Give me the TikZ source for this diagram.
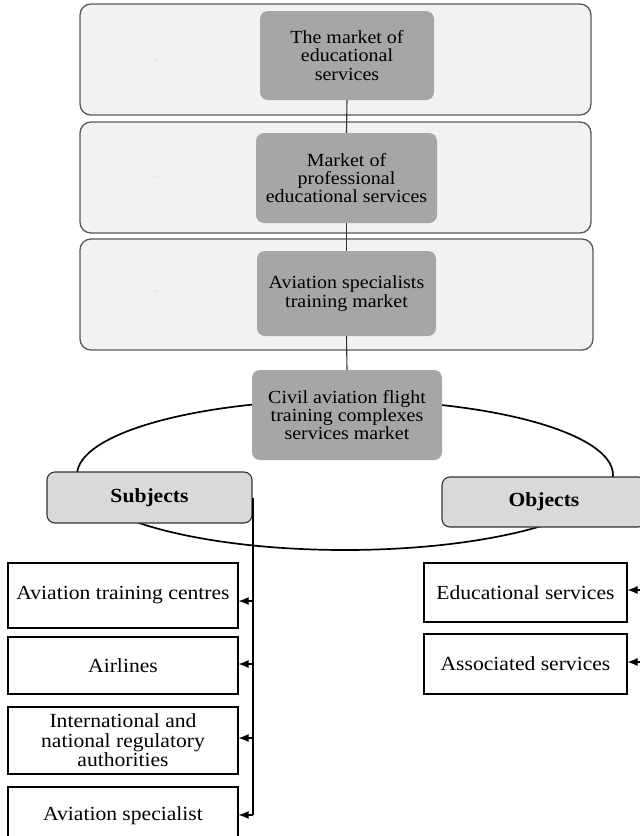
\documentclass[tikz,border=0pt]{standalone}
\usepackage{fontspec}
\setmainfont{Liberation Serif}[FakeStretch=1.08]
\usetikzlibrary{shapes.geometric,arrows.meta}
\definecolor{paneledge}{HTML}{595959}
\definecolor{panelfill}{HTML}{F2F2F2}
\definecolor{levelfill}{HTML}{A6A6A6}
\definecolor{groupfill}{HTML}{D9D9D9}
\definecolor{linkgray}{HTML}{333333}
\definecolor{ghost}{HTML}{DADADA}

\begin{document}
\begin{tikzpicture}[x=1pt,y=-1pt,
  panel/.style={draw=paneledge, line width=1.3pt, fill=panelfill, rounded corners=11pt, inner sep=0pt},
  level/.style={fill=levelfill, rounded corners=8pt, align=center, inner sep=0pt,
                font=\fontsize{18.5}{18.3}\selectfont},
  group/.style={draw=black!80, line width=1.1pt, fill=groupfill, rounded corners=8pt, inner sep=0pt,
                font=\fontsize{20}{19.5}\selectfont\bfseries},
  item/.style={draw=black, line width=1.2pt, fill=white, align=center, inner sep=0pt,
               font=\fontsize{20}{19.5}\selectfont},
  ghostdash/.style={text=ghost, inner sep=0pt, font=\fontsize{12}{12}\selectfont},
  link/.style={draw=linkgray, line width=1.1pt},
  feed/.style={draw=black, line width=1.1pt, -{Latex[length=10pt,width=8pt]}},
]
\useasboundingbox (0,0) rectangle (640,836);

% three nested market levels
\node[panel, minimum width=511pt, minimum height=111pt] (p1) at (335.5,59.5) {};
\node[panel, minimum width=511pt, minimum height=111pt] (p2) at (335.5,177.5) {};
\node[panel, minimum width=513pt, minimum height=111pt] (p3) at (336.5,294.5) {};
\node[ghostdash] (m1) at (156,62) {-};
\node[ghostdash] (m2) at (157,178) {-};
\node[ghostdash] (m3) at (157,293) {-};

\node[level, minimum width=174pt, minimum height=89pt] (l1) at (347,55.5)
  {The market of\\educational\\services};
\node[level, minimum width=181pt, minimum height=90pt] (l2) at (346.5,178)
  {Market of\\professional\\educational services};
\node[level, minimum width=179pt, minimum height=85pt] (l3) at (346.5,293.5)
  {Aviation specialists\\training market};

% the market ring with its subjects and objects
\node[draw=black, ellipse, line width=1.7pt, minimum width=536pt, minimum height=150pt, inner sep=0pt]
  (ring) at (345,475) {};
\node[level, minimum width=190pt, minimum height=90pt] (cv) at (347,415)
  {Civil aviation flight\\training complexes\\services market};

\draw[link] (l1.south) -- (l2.north);
\draw[link] (l2.south) -- (l3.north);
\draw[link] (l3.south) -- (cv.north);

\node[group, minimum width=205pt, minimum height=51pt] (subj) at (149.5,497.5) {Subjects};
\node[group, minimum width=204pt, minimum height=50pt] (obj) at (544,502) {Objects};

% subjects
\node[item, minimum width=230pt, minimum height=65pt] (atc) at (123,595.5) {Aviation training centres};
\node[item, minimum width=230pt, minimum height=57pt] (air) at (123,665.5) {Airlines};
\node[item, minimum width=230pt, minimum height=67pt] (reg) at (123,740.5)
  {International and\\national regulatory\\authorities};
\node[item, minimum width=230pt, minimum height=58pt] (spc) at (123,816) {Aviation specialist};

\coordinate (tA) at (253,601);
\coordinate (tB) at (253,664);
\coordinate (tC) at (253,738);
\coordinate (tD) at (253,815);
\draw[link, draw=black] (subj.east -| tD) -- (tD);
\draw[feed] (tA) -- (atc.east |- tA);
\draw[feed] (tB) -- (air.east |- tB);
\draw[feed] (tC) -- (reg.east |- tC);
\draw[feed] (tD) -- (spc.east |- tD);

% objects
\node[item, minimum width=203pt, minimum height=59pt] (edu) at (525.5,592.5) {Educational services};
\node[item, minimum width=203pt, minimum height=60pt] (aso) at (525.5,664) {Associated services};
\coordinate (oA) at (646,590);
\coordinate (oB) at (646,662);
\draw[feed] (oA) -- (edu.east |- oA);
\draw[feed] (oB) -- (aso.east |- oB);
\end{tikzpicture}
\end{document}
